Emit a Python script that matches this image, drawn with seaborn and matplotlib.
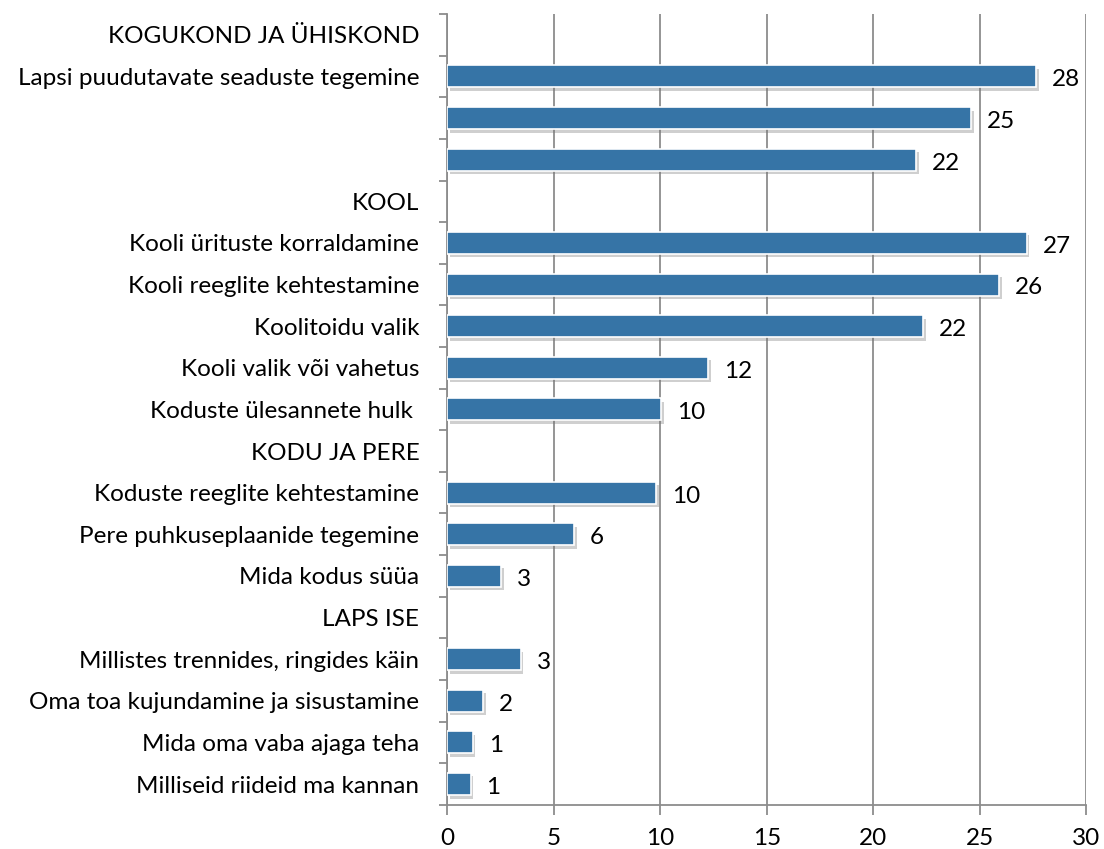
import numpy as np
import pandas as pd
import matplotlib
matplotlib.use('Agg')
import matplotlib.pyplot as plt
import matplotlib.patheffects as pe
import seaborn as sns

# rows from top to bottom; header rows carry no value
labels = ['KOGUKOND JA ÜHISKOND', 'Lapsi puudutavate seaduste tegemine', '', ' ',
          'KOOL', 'Kooli ürituste korraldamine', 'Kooli reeglite kehtestamine',
          'Koolitoidu valik', 'Kooli valik või vahetus', 'Koduste ülesannete hulk ',
          'KODU JA PERE', 'Koduste reeglite kehtestamine', 'Pere puhkuseplaanide tegemine',
          'Mida kodus süüa', 'LAPS ISE', 'Millistes trennides, ringides käin',
          'Oma toa kujundamine ja sisustamine', 'Mida oma vaba ajaga teha',
          'Milliseid riideid ma kannan']
values = [np.nan, 27.65, 24.6, 22.0,
          np.nan, 27.2, 25.9, 22.35, 12.25, 10.05,
          np.nan, 9.8, 5.95, 2.55,
          np.nan, 3.45, 1.7, 1.2, 1.1]

keys = ['r%d' % i for i in range(len(labels))]
df = pd.DataFrame({'key': keys, 'value': values})

sns.set_style('white')
plt.rcParams['font.family'] = ['Lato', 'DejaVu Sans']
plt.rcParams['text.color'] = 'black'
plt.rcParams['xtick.labelcolor'] = 'black'
plt.rcParams['ytick.labelcolor'] = 'black'

fig = plt.figure(figsize=(11.04, 8.49), dpi=100)
ax = fig.add_axes([0.405, 0.052, 0.579, 0.9315])

sns.barplot(data=df, x='value', y='key', order=keys, orient='h', color='#3674a6',
            saturation=1, width=0.53, edgecolor='white', linewidth=1.2, ax=ax)

for p in ax.patches:
    p.set_path_effects([pe.SimplePatchShadow(offset=(2, -2.5), shadow_rgbFace='#777777', alpha=0.35),
                        pe.Normal()])
    p.set_zorder(3)

for i, v in enumerate(values):
    if not np.isnan(v):
        ax.text(v + 0.75, i + 0.08, str(int(v + 0.5)), va='center', ha='left',
                fontsize=17.5, color='black')

ax.set_xlim(0, 30)
ax.set_ylim(len(labels) - 0.5, -0.5)
ax.set_xticks(range(0, 31, 5))
ax.xaxis.grid(True, color='#8c8c8c', linewidth=1.3, zorder=0)
ax.set_axisbelow(True)

ax.set_yticks(range(len(labels)))
ax.set_yticklabels(labels, fontsize=17.5)
ax.set_yticks(np.arange(-0.5, len(labels), 1), minor=True)
ax.tick_params(axis='y', which='major', left=False, length=0, pad=20)
ax.tick_params(axis='y', which='minor', left=True, length=6, width=1.3, color='#8c8c8c', direction='out')
ax.tick_params(axis='x', bottom=True, length=7, width=1.3, color='#8c8c8c', labelsize=17.5, pad=10)
ax.set_xlabel('')
ax.set_ylabel('')

for s in ['top', 'right']:
    ax.spines[s].set_visible(False)
for s in ['left', 'bottom']:
    ax.spines[s].set_color('#8c8c8c')
    ax.spines[s].set_linewidth(1.3)

fig.savefig('out.png', dpi=100)
